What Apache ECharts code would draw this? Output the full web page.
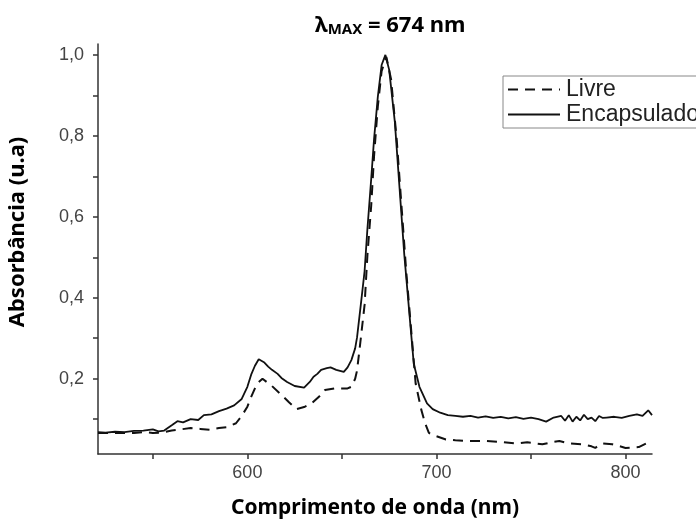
<!DOCTYPE html>
<html>
<head>
<meta charset="utf-8">
<script src="https://cdn.jsdelivr.net/npm/echarts@6/dist/echarts.min.js"></script>
<style>
  html, body { margin: 0; padding: 0; background: #fff; }
  #chart { width: 696px; height: 524px; }
</style>
</head>
<body>
<div id="chart"></div>
<script>
"use strict";

// Encapsulado (linha continua)
var encNm = [521, 525, 530, 535, 540, 545, 550, 553, 556, 560, 563, 566, 570, 574, 577, 581, 585, 589, 593, 597,
  600, 602, 604, 606, 607, 609, 611, 613, 616, 618, 621, 625, 630, 633, 635, 637, 639, 642, 644, 647,
  651, 653, 655, 657, 658, 660, 662, 663.5, 665.5, 667, 669, 671, 673, 675, 678, 680.5, 683, 686, 688, 691,
  695, 698, 702, 706, 710, 714, 718, 722, 726, 730, 734, 738, 742, 746, 750, 754, 758, 762, 766, 768,
  770, 772, 774, 776, 778, 780, 782, 784, 786, 788, 790, 794, 798, 802, 806, 809, 812, 814];
var encAbs = [0.068, 0.067, 0.069, 0.068, 0.071, 0.072, 0.075, 0.070, 0.072, 0.085, 0.095, 0.092, 0.100, 0.098, 0.110, 0.112, 0.120, 0.126, 0.134, 0.150,
  0.180, 0.210, 0.232, 0.248, 0.249, 0.240, 0.230, 0.222, 0.212, 0.202, 0.192, 0.182, 0.178, 0.192, 0.205, 0.212, 0.222, 0.226, 0.228, 0.222,
  0.217, 0.228, 0.246, 0.275, 0.302, 0.383, 0.466, 0.571, 0.694, 0.792, 0.897, 0.975, 1.0, 0.963, 0.834, 0.670, 0.506, 0.344, 0.237, 0.180,
  0.139, 0.125, 0.116, 0.110, 0.108, 0.106, 0.108, 0.104, 0.107, 0.103, 0.106, 0.102, 0.105, 0.101, 0.104, 0.100, 0.094, 0.104, 0.108, 0.096,
  0.110, 0.094, 0.106, 0.097, 0.111, 0.100, 0.104, 0.095, 0.108, 0.103, 0.104, 0.106, 0.103, 0.108, 0.112, 0.108, 0.122, 0.110];

// Livre (linha tracejada)
var livNm = [521, 530, 540, 545, 550, 555, 560, 565, 570, 575, 580, 585, 589, 594, 597,
  600, 602, 604, 606, 608, 613, 618, 622, 626, 630, 634, 638, 641, 646, 650,
  653, 655, 657, 658, 660, 662, 663.5, 665.5, 667, 669, 671, 673.5, 676, 679, 681.5,
  684, 687, 689, 692, 694, 696, 700, 705, 710, 717, 726, 734, 742, 748, 756,
  762, 765, 770, 777, 782, 784, 786, 788, 793, 797, 800, 807, 811, 813];
var livAbs = [0.066, 0.066, 0.066, 0.068, 0.066, 0.067, 0.072, 0.075, 0.078, 0.076, 0.074, 0.078, 0.080, 0.090, 0.108,
  0.131, 0.155, 0.176, 0.192, 0.200, 0.182, 0.160, 0.142, 0.125, 0.130, 0.139, 0.156, 0.172, 0.176, 0.176,
  0.176, 0.180, 0.200, 0.220, 0.300, 0.383, 0.506, 0.628, 0.750, 0.873, 0.960, 0.995, 0.940, 0.790, 0.628,
  0.466, 0.300, 0.188, 0.123, 0.090, 0.066, 0.058, 0.050, 0.048, 0.046, 0.046, 0.044, 0.040, 0.043, 0.038,
  0.044, 0.046, 0.040, 0.038, 0.033, 0.029, 0.036, 0.040, 0.038, 0.033, 0.029, 0.031, 0.040, 0.052];

var xTicks = [550, 600, 650, 700, 750, 800];
var xLabels = [600, 700, 800];
var yTicks = [0.1, 0.2, 0.3, 0.4, 0.5, 0.6, 0.7, 0.8, 0.9, 1.0];
var yLabels = [0.2, 0.4, 0.6, 0.8, 1.0];

function pairs(xs, ys) {
  return xs.map(function (x, i) { return [x, ys[i]]; });
}

var myChart = echarts.init(document.getElementById("chart"), null, { renderer: "canvas" });

var axisFont = "Liberation Sans, Arial, sans-serif";
var boldFont = "Noto Sans, Open Sans, sans-serif";

var option = {
  animation: false,
  backgroundColor: "#fff",
  title: {
    left: 310,
    top: 5,
    text: "{l|λ}{s|MAX}{l| = 674 nm}",
    textStyle: {
      rich: {
        l: { fontFamily: boldFont, fontWeight: "bold", fontSize: 22, lineHeight: 27, verticalAlign: "bottom", color: "#000" },
        s: { fontFamily: boldFont, fontWeight: "bold", fontSize: 15, lineHeight: 12, verticalAlign: "bottom", color: "#000" }
      }
    }
  },
  legend: {
    orient: "vertical",
    left: 503,
    top: 76,
    padding: [2, 4, 2, 4],
    itemGap: 2,
    itemWidth: 52,
    itemHeight: 14,
    borderColor: "#888",
    borderWidth: 1,
    backgroundColor: "#fff",
    itemStyle: { opacity: 0 },
    textStyle: { fontFamily: axisFont, fontSize: 23, color: "#222", padding: [0, 0, 0, 1] },
    data: ["Livre", "Encapsulado"]
  },
  grid: { left: 98, right: 44, top: 44, bottom: 66 },
  xAxis: {
    type: "value",
    min: 521,
    max: 814,
    name: "Comprimento de onda (nm)",
    nameLocation: "middle",
    nameGap: 44,
    nameTextStyle: { fontFamily: boldFont, fontWeight: "bold", fontSize: 21, color: "#000" },
    axisLine: { lineStyle: { color: "#333", width: 1.5 } },
    axisTick: { show: true, length: 5, customValues: xTicks, lineStyle: { color: "#333", width: 1.5 } },
    axisLabel: { customValues: xLabels, margin: 10, fontFamily: axisFont, fontSize: 18, color: "#444" },
    splitLine: { show: false }
  },
  yAxis: {
    type: "value",
    min: 0.014,
    max: 1.027,
    axisLine: { show: true, lineStyle: { color: "#333", width: 1.5 } },
    axisTick: { show: true, length: 5, customValues: yTicks, lineStyle: { color: "#333", width: 1.5 } },
    axisLabel: {
      customValues: yLabels,
      margin: 14,
      fontFamily: axisFont,
      fontSize: 18,
      color: "#444",
      formatter: function (v) { return v.toFixed(1).replace(".", ","); }
    },
    splitLine: { show: false }
  },
  graphic: [
    {
      type: "text",
      x: 18,
      y: 232,
      rotation: Math.PI / 2,
      style: {
        text: "Absorbância (u.a)",
        fontFamily: boldFont,
        fontWeight: "bold",
        fontSize: 22,
        fill: "#000",
        align: "center",
        verticalAlign: "middle"
      }
    }
  ],
  series: [
    {
      name: "Livre",
      type: "line",
      symbol: "none",
      data: pairs(livNm, livAbs),
      lineStyle: { color: "#111", width: 2, type: [10, 7] },
      itemStyle: { color: "#111" }
    },
    {
      name: "Encapsulado",
      type: "line",
      symbol: "none",
      data: pairs(encNm, encAbs),
      lineStyle: { color: "#111", width: 1.8, type: "solid" },
      itemStyle: { color: "#111" }
    }
  ]
};

myChart.setOption(option);
window.onresize = function () {
  myChart.resize();
};
</script>
</body>
</html>
